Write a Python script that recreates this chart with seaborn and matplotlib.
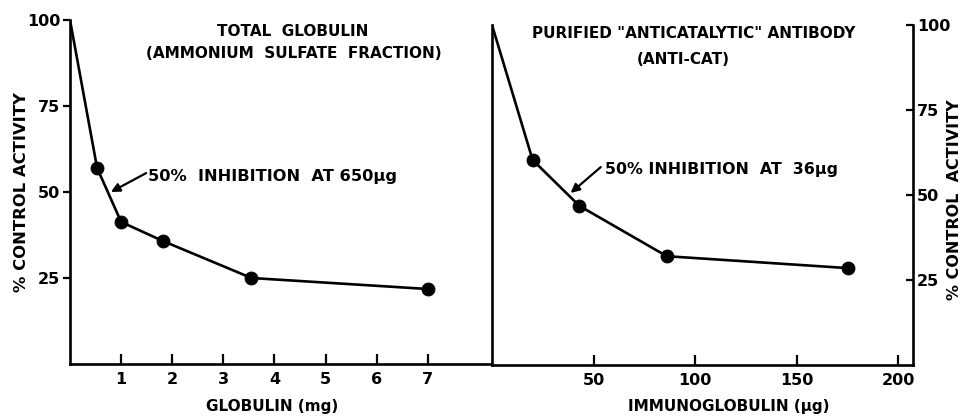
import matplotlib
matplotlib.use("Agg")
import matplotlib.pyplot as plt
import pandas as pd
import seaborn as sns

# total globulin (ammonium sulfate fraction)
globulin_mg = [0, 0.53, 1.0, 1.81, 3.55, 7.0]
globulin_act = [100, 57, 41.3, 35.8, 25, 21.8]

# purified "anticatalytic" antibody
anticat_ug = [0, 20, 43, 86, 175]
anticat_act = [100, 60.3, 46.8, 32, 28.5]

left_xticks = [1, 2, 3, 4, 5, 6, 7]
right_xticks = [50, 100, 150, 200]
y_ticks = [25, 50, 75, 100]

sns.set_style("ticks")
plt.rcParams["font.family"] = ["DejaVu Sans"]
plt.rcParams["font.weight"] = "bold"
for k in ["text.color", "axes.edgecolor", "axes.labelcolor", "xtick.color", "ytick.color"]:
    plt.rcParams[k] = "black"

W, H = 962, 420
fig = plt.figure(figsize=(W / 100, H / 100), dpi=100)

def fpos(x0, y0, x1, y1):
    # pixel box -> figure fraction [left, bottom, width, height]
    return [x0 / W, 1 - y1 / H, (x1 - x0) / W, (y1 - y0) / H]

ax1 = fig.add_axes(fpos(70, 20, 492, 364))
ax2 = fig.add_axes(fpos(492, 25, 913, 365))

df1 = pd.DataFrame({"x": globulin_mg, "y": globulin_act})
df2 = pd.DataFrame({"x": anticat_ug, "y": anticat_act})

fs = 11
for ax, df in [(ax1, df1), (ax2, df2)]:
    sns.lineplot(data=df, x="x", y="y", ax=ax, color="black", lw=1.9, sort=False)
    sns.scatterplot(data=df.iloc[1:], x="x", y="y", ax=ax, color="black",
                    s=85, edgecolor="black", zorder=3)
    ax.set_ylim(0, 100)
    ax.set_xlabel("")
    ax.set_ylabel("")
    for sp in ax.spines.values():
        sp.set_linewidth(1.9)
    ax.spines["top"].set_visible(False)

# left panel
ax1.set_xlim(0, (492 - 71) / 51)
ax1.set_xticks(left_xticks)
ax1.set_yticks(y_ticks)
ax1.spines["right"].set_visible(False)
ax1.tick_params(axis="x", direction="in", length=7, width=1.6, labelsize=fs + 0.5, pad=6)
ax1.tick_params(axis="y", direction="out", length=5, width=1.6, labelsize=fs + 0.5, pad=2)

# right panel
ax2.set_xlim(0, (913 - 492.5) / 2.03)
ax2.set_xticks(right_xticks)
ax2.set_yticks(y_ticks)
ax2.yaxis.tick_right()
ax2.spines["right"].set_visible(True)
ax2.tick_params(axis="x", direction="in", length=7, width=1.6, labelsize=fs + 0.5, pad=6)
ax2.tick_params(axis="y", direction="in", length=5, width=1.6, labelsize=fs + 0.5, pad=3,
                left=False, right=True)

# annotations: text and arrow placed separately so the arrow runs diagonally
arrow = dict(arrowstyle="-|>", lw=1.6, color="black", mutation_scale=13, shrinkA=0, shrinkB=0)
ax1.text(1.53, 54.4, "50%  INHIBITION  AT 650μg", ha="left", va="center", fontsize=fs + 0.7)
ax1.annotate("", xy=(0.8, 50), xytext=(1.49, 55.5), arrowprops=arrow)
ax2.text(55.5, 57.4, "50% INHIBITION  AT  36μg", ha="left", va="center", fontsize=fs + 0.4)
ax2.annotate("", xy=(38.7, 50.6), xytext=(53.5, 58.2), arrowprops=arrow)

def ftext(px, py, s, size=fs, **kw):
    fig.text(px / W, 1 - py / H, s, ha="center", va="center", fontsize=size, **kw)

ftext(293, 32, "TOTAL  GLOBULIN")
ftext(294, 53, "(AMMONIUM  SULFATE  FRACTION)")
ftext(694, 33, 'PURIFIED "ANTICATALYTIC" ANTIBODY')
ftext(683, 60, "(ANTI-CAT)")
ftext(272, 407, "GLOBULIN (mg)")
ftext(729, 407, "IMMUNOGLOBULIN (μg)")
ftext(22, 192, "% CONTROL ACTIVITY", size=fs + 0.8, rotation=90)
ftext(955, 200, "% CONTROL  ACTIVITY", size=fs + 0.5, rotation=90)

fig.savefig("out.png", dpi=100)
